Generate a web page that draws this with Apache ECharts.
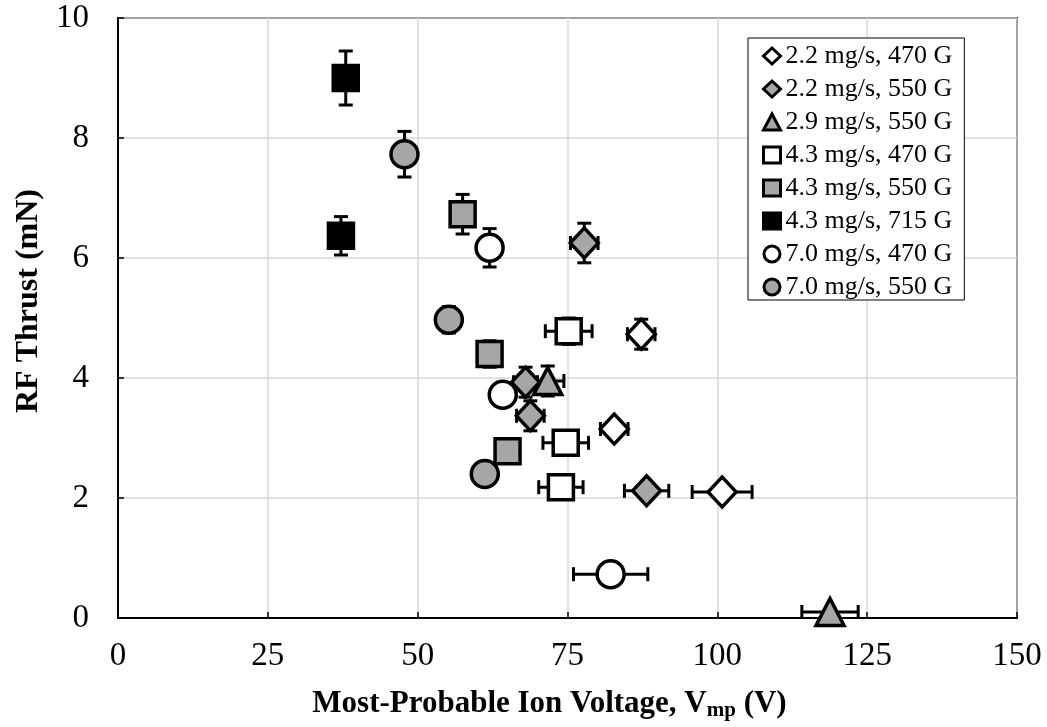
<!DOCTYPE html>
<html>
<head>
<meta charset="utf-8">
<script src="https://cdn.jsdelivr.net/npm/echarts@6/dist/echarts.min.js"></script>
<style>
  html, body { margin: 0; padding: 0; background: #fff; }
  #chart { width: 1047px; height: 727px; }
</style>
</head>
<body>
<div id="chart"></div>
<script>
    // series names (legend order)
    const names = ['2.2 mg/s, 470 G', '2.2 mg/s, 550 G', '2.9 mg/s, 550 G', '4.3 mg/s, 470 G',
        '4.3 mg/s, 550 G', '4.3 mg/s, 715 G', '7.0 mg/s, 470 G', '7.0 mg/s, 550 G']

    // points: [Vmp (V), thrust (mN)]
    const pts22_470 = [[87.3, 4.73], [82.8, 3.15], [100.8, 2.1]]
    const pts22_550 = [[77.8, 6.25], [68.0, 3.93], [68.8, 3.37], [88.2, 2.12]]
    const pts29_550 = [[71.7, 3.95], [118.8, 0.1]]
    const pts43_470 = [[75.2, 4.78], [74.7, 2.92], [73.9, 2.18]]
    const pts43_550 = [[57.5, 6.73], [62.0, 4.4], [65.0, 2.78]]
    const pts43_715 = [[38.0, 9.0], [37.2, 6.37]]
    const pts70_470 = [[62.0, 6.17], [64.2, 3.72], [82.2, 0.73]]
    const pts70_550 = [[47.8, 7.73], [55.2, 4.97], [61.2, 2.4]]

    // errors: [x error, y error]
    const err22_470 = [[2.3, 0.25], [2.3, 0.1], [5.0, 0]]
    const err22_550 = [[2.3, 0.33], [2.0, 0.25], [2.3, 0.25], [3.7, 0]]
    const err29_550 = [[2.7, 0.25], [4.7, 0]]
    const err43_470 = [[3.9, 0.22], [3.8, 0], [3.7, 0]]
    const err43_550 = [[0, 0.33], [0, 0.22], [0, 0]]
    const err43_715 = [[0, 0.45], [0, 0.32]]
    const err70_470 = [[0, 0.32], [0, 0], [6.2, 0]]
    const err70_550 = [[0, 0.38], [0, 0.22], [0, 0]]

    const xTicks = [0, 25, 50, 75, 100, 125, 150]
    const yTicks = [0, 2, 4, 6, 8, 10]

    const allPts = [pts22_470, pts22_550, pts29_550, pts43_470, pts43_550, pts43_715, pts70_470, pts70_550]
    const allErr = [err22_470, err22_550, err29_550, err43_470, err43_550, err43_715, err70_470, err70_550]
    const symbols = ['diamond', 'diamond', 'triangle', 'rect', 'rect', 'rect', 'circle', 'circle']
    const sizes = [[28, 30], [28, 30], [28, 27], [25, 25], [25, 25], [25, 25], [27, 27], [27, 27]]
    const fills = ['#ffffff', '#a6a6a6', '#a6a6a6', '#ffffff', '#a6a6a6', '#000000', '#ffffff', '#a6a6a6']

    const serif = 'Liberation Serif, Times New Roman, serif'

    const errData = []
    allPts.forEach((list, i) => {
        list.forEach((p, j) => {
            errData.push([p[0], p[1], allErr[i][j][0], allErr[i][j][1]])
        })
    })

    const chart = echarts.init(document.getElementById('chart'))

    const series = [{
        type: 'custom',
        silent: true,
        z: 1,
        encode: {x: 0, y: 1},
        data: errData,
        renderItem(params, api) {
            const x = api.value(0), y = api.value(1)
            const xe = api.value(2), ye = api.value(3)
            const style = {stroke: '#000', lineWidth: 3}
            const kids = []
            if (xe > 0) {
                const l = api.coord([x - xe, y]), r = api.coord([x + xe, y])
                kids.push({type: 'line', shape: {x1: l[0], y1: l[1], x2: r[0], y2: r[1]}, style})
                kids.push({type: 'line', shape: {x1: l[0], y1: l[1] - 7, x2: l[0], y2: l[1] + 7}, style})
                kids.push({type: 'line', shape: {x1: r[0], y1: r[1] - 7, x2: r[0], y2: r[1] + 7}, style})
            }
            if (ye > 0) {
                const t = api.coord([x, y + ye]), b = api.coord([x, y - ye])
                kids.push({type: 'line', shape: {x1: t[0], y1: t[1], x2: b[0], y2: b[1]}, style})
                kids.push({type: 'line', shape: {x1: t[0] - 7, y1: t[1], x2: t[0] + 7, y2: t[1]}, style})
                kids.push({type: 'line', shape: {x1: b[0] - 7, y1: b[1], x2: b[0] + 7, y2: b[1]}, style})
            }
            return {type: 'group', children: kids}
        }
    }]

    allPts.forEach((list, i) => {
        series.push({
            name: names[i],
            type: 'scatter',
            z: 3,
            symbol: symbols[i],
            symbolSize: sizes[i],
            data: list,
            itemStyle: {color: fills[i], borderColor: '#000', borderWidth: 3.5, opacity: 1}
        })
    })

    chart.setOption({
        animation: false,
        backgroundColor: '#fff',
        grid: {
            left: 118, right: 30, top: 18, bottom: 109,
            show: true, borderColor: '#000', borderWidth: 2
        },
        legend: {
            data: names.map(n => ({name: n, itemStyle: {borderWidth: 3}})),
            orient: 'vertical',
            left: 748,
            top: 38,
            padding: [5, 12, 0, 14],
            itemGap: 7,
            itemWidth: 17,
            itemHeight: 16,
            itemTextGap: 4,
            backgroundColor: '#fff',
            borderColor: '#000',
            borderWidth: 1,
            textStyle: {fontFamily: serif, fontSize: 26, color: '#000'}
        },
        xAxis: {
            type: 'value',
            min: xTicks[0],
            max: xTicks[xTicks.length - 1],
            interval: 25,
            name: '{a|Most-Probable Ion Voltage, V}{b|mp}{a| (V)}',
            nameLocation: 'middle',
            nameGap: 68,
            nameTextStyle: {
                padding: [0, 36, 0, 0],
                rich: {
                    a: {fontFamily: serif, fontSize: 31, fontWeight: 'bold', color: '#000'},
                    b: {fontFamily: serif, fontSize: 21, fontWeight: 'bold', color: '#000', padding: [14, 0, 0, 0]}
                }
            },
            axisLine: {lineStyle: {color: '#000', width: 2}},
            axisTick: {inside: true, length: 6, lineStyle: {color: '#000', width: 1.5}},
            axisLabel: {fontFamily: serif, fontSize: 33, color: '#000', margin: 22},
            splitLine: {show: true, lineStyle: {color: '#d9d9d9', width: 1.5}}
        },
        yAxis: {
            type: 'value',
            min: yTicks[0],
            max: yTicks[yTicks.length - 1],
            interval: 2,
            name: 'RF Thrust (mN)',
            nameLocation: 'middle',
            nameGap: 72,
            nameTextStyle: {fontFamily: serif, fontSize: 32, fontWeight: 'bold', color: '#000', padding: [0, 0, 0, 34]},
            axisLine: {lineStyle: {color: '#000', width: 2}},
            axisTick: {inside: true, length: 6, lineStyle: {color: '#000', width: 1.5}},
            axisLabel: {fontFamily: serif, fontSize: 33, color: '#000', margin: 29},
            splitLine: {show: true, lineStyle: {color: '#d9d9d9', width: 1.5}}
        },
        series: series
    })
</script>
</body>
</html>
